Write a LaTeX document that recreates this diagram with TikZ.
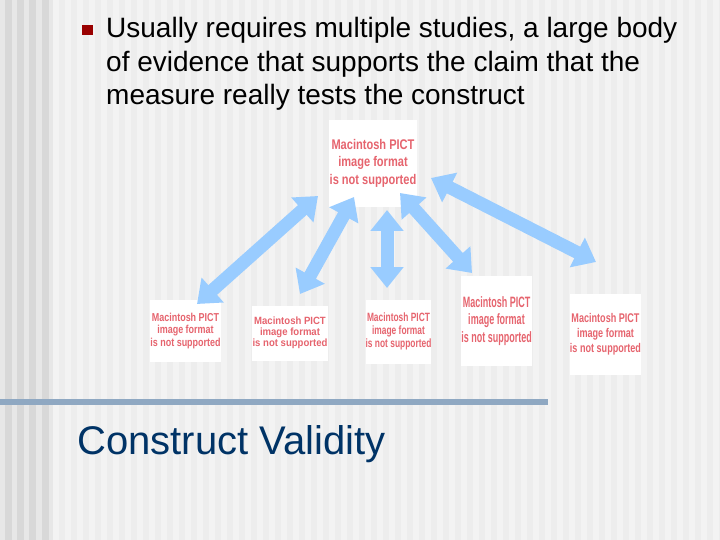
\documentclass[tikz,border=0pt]{standalone}
\usepackage{fontspec}
\setmainfont{Liberation Sans}
\usetikzlibrary{arrows.meta}
\definecolor{bgbase}{RGB}{243,243,243}
\definecolor{bgstripe}{RGB}{237,237,237}
\definecolor{bandlight}{RGB}{231,231,231}
\definecolor{banddark}{RGB}{216,216,216}
\definecolor{arrowblue}{RGB}{153,204,255}
\definecolor{pictred}{RGB}{230,100,110}
\definecolor{bulletred}{RGB}{153,0,0}
\definecolor{titleblue}{RGB}{0,51,102}
\definecolor{rulecol}{RGB}{143,168,194}
\newcommand{\pictmsg}[3]{\scalebox{#3}[1]{\fontsize{#1}{#2}\selectfont\bfseries\begin{tabular}{@{}c@{}}Macintosh PICT\\image format\\is not supported\end{tabular}}}
\begin{document}
\begin{tikzpicture}[x=1pt,y=-1pt,
  pictbox/.style={fill=white, inner sep=0pt, text=pictred},
  biarrow/.style={draw=arrowblue, line width=13pt,
    {Triangle[length=21pt,width=32pt]}-{Triangle[length=21pt,width=32pt]}},
  bodyline/.style={anchor=base west, inner sep=0pt, font=\fontsize{28}{33.6}\selectfont},
  titletext/.style={anchor=base west, inner sep=0pt, text=titleblue, font=\fontsize{40}{48}\selectfont}]
% background
\useasboundingbox (0,0) rectangle (720,540);
\fill[bgbase] (0,0) rectangle (720,540);
\foreach \x in {59,71,...,719} \fill[bgstripe] (\x,0) rectangle ++(6,540);
\fill[bandlight] (0,0) rectangle (53,540);
\foreach \x in {5,17,29,42} \fill[banddark] (\x,0) rectangle ++(7,540);
% bullet text
\fill[bulletred] (82,25) rectangle (93,35);
\node[bodyline] (l1) at (106,38) {Usually requires multiple studies, a large body};
\node[bodyline] (l2) at (106,71.5) {of evidence that supports the claim that the};
\node[bodyline] (l3) at (106,105) {measure really tests the construct};
% picture boxes
\node[pictbox, minimum width=88pt, minimum height=87pt] (top) at (373,163.5) {\pictmsg{14}{17.5}{0.79}};
\node[pictbox, minimum width=71pt, minimum height=62pt] (b1) at (185.5,331) {\pictmsg{11.5}{12.5}{0.78}};
\node[pictbox, minimum width=76pt, minimum height=55pt] (b2) at (290,333.5) {\pictmsg{10.5}{10.5}{0.91}};
\node[pictbox, minimum width=65pt, minimum height=64pt] (b3) at (398.5,332) {\pictmsg{12}{13}{0.70}};
\node[pictbox, minimum width=69pt, minimum height=90pt] (b4) at (496.5,321) {\pictmsg{15}{17.5}{0.60}};
\node[pictbox, minimum width=71pt, minimum height=81pt] (b5) at (605.5,334.5) {\pictmsg{12.6}{15}{0.72}};
% arrow ends
\coordinate (a1s) at (318,196); \coordinate (a1e) at (197,304);
\coordinate (a2s) at (354,197); \coordinate (a2e) at (300,294);
\coordinate (a3s) at (387,210); \coordinate (a3e) at (387,288);
\coordinate (a4s) at (400,193); \coordinate (a4e) at (472,273);
\coordinate (a5s) at (431,178); \coordinate (a5e) at (596,262);
\draw[biarrow] (a1s) -- (a1e);
\draw[biarrow] (a2s) -- (a2e);
\draw[biarrow] (a3s) -- (a3e);
\draw[biarrow] (a4s) -- (a4e);
\draw[biarrow] (a5s) -- (a5e);
% rule and title
\fill[rulecol] (0,399) rectangle (548,405);
\node[titletext] (title) at (77,454) {Construct Validity};
\end{tikzpicture}
\end{document}
